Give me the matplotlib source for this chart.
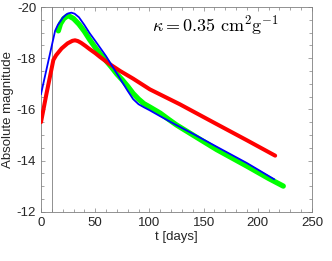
import matplotlib
matplotlib.use("Agg")
import matplotlib.pyplot as plt
import numpy as np

plt.rcParams['font.family'] = ['Liberation Sans', 'DejaVu Sans']
plt.rcParams['mathtext.fontset'] = 'cm'
plt.rcParams['axes.unicode_minus'] = False

# blue model curve
t_blue = [0, 13, 15.5, 18, 20, 23, 25, 28, 31, 35, 40, 45, 50, 55, 60, 65, 70, 75, 80,
          85, 90, 95, 100, 110, 122, 140, 162, 190, 215]
m_blue = [-16.6, -19.07, -19.3, -19.45, -19.58, -19.7, -19.75, -19.78, -19.74, -19.6,
          -19.3, -18.97, -18.68, -18.38, -18.08, -17.74, -17.4, -17.06, -16.72,
          -16.4, -16.2, -16.08, -15.97, -15.73, -15.45, -15.05, -14.54, -13.9, -13.27]

# green (observed) curve
t_green = [16, 18, 21, 25, 30, 35, 40, 45, 50, 55, 60, 65, 70, 75, 80, 85, 90, 95, 100,
           110, 118, 125, 140, 162, 190, 210, 223.5]
m_green = [-19.07, -19.35, -19.55, -19.67, -19.55, -19.33, -19.05, -18.72, -18.42, -18.15,
           -17.9, -17.65, -17.38, -17.15, -16.9, -16.62, -16.4, -16.22, -16.1,
           -15.85, -15.6, -15.39, -15.0, -14.43, -13.78, -13.3, -13.0]

# red model curve
t_red = [0, 5, 11.4, 14, 19, 24.5, 29, 31.4, 34, 37, 41, 45, 50, 54.4, 63, 73, 85, 100.5,
         128, 160, 190, 216]
m_red = [-15.5, -16.6, -17.93, -18.12, -18.38, -18.58, -18.68, -18.7, -18.67, -18.6,
         -18.48, -18.35, -18.2, -18.05, -17.78, -17.5, -17.2, -16.78,
         -16.2, -15.47, -14.79, -14.19]

t_marker = 10

fig = plt.figure(figsize=(3.32, 2.61), dpi=100)
ax = fig.add_axes([0.1235, 0.189, 0.8163, 0.784])

ax.axvline(t_marker, color='#909090', linewidth=0.7, zorder=1)
ax.plot(t_green, m_green, color='#00ff00', linewidth=3.8, solid_capstyle='round', zorder=2)
ax.plot(t_red, m_red, color='#ff0000', linewidth=2.9, solid_capstyle='round', zorder=3)
ax.plot(t_blue, m_blue, color='#0000ff', linewidth=1.3, zorder=4)

ax.set_xlim(0, 250)
ax.set_ylim(-12, -20)
ax.set_xticks([0, 50, 100, 150, 200, 250])
ax.set_yticks([-20, -18, -16, -14, -12])
ax.set_xticks(np.arange(0, 251, 10), minor=True)
ax.set_yticks(np.arange(-20, -11.9, 0.5), minor=True)
ax.tick_params(which='both', direction='in', top=True, right=True, colors='#262626',
               labelsize=9.5, width=0.5)
ax.tick_params(which='both', color='#808080')
ax.tick_params(which='major', length=3)
ax.tick_params(which='minor', length=2)
for sp in ax.spines.values():
    sp.set_color('#808080')
    sp.set_linewidth(0.6)

ax.set_xlabel('t [days]', fontsize=9.5, color='#262626', labelpad=2)
ax.set_ylabel('Absolute magnitude', fontsize=9.5, color='#262626', labelpad=2)

ax.text(0.875, 0.97, r'$\kappa = 0.35\ \mathrm{cm^2 g^{-1}}$', transform=ax.transAxes,
        ha='right', va='top', fontsize=13)

fig.savefig('out.png', dpi=100)
